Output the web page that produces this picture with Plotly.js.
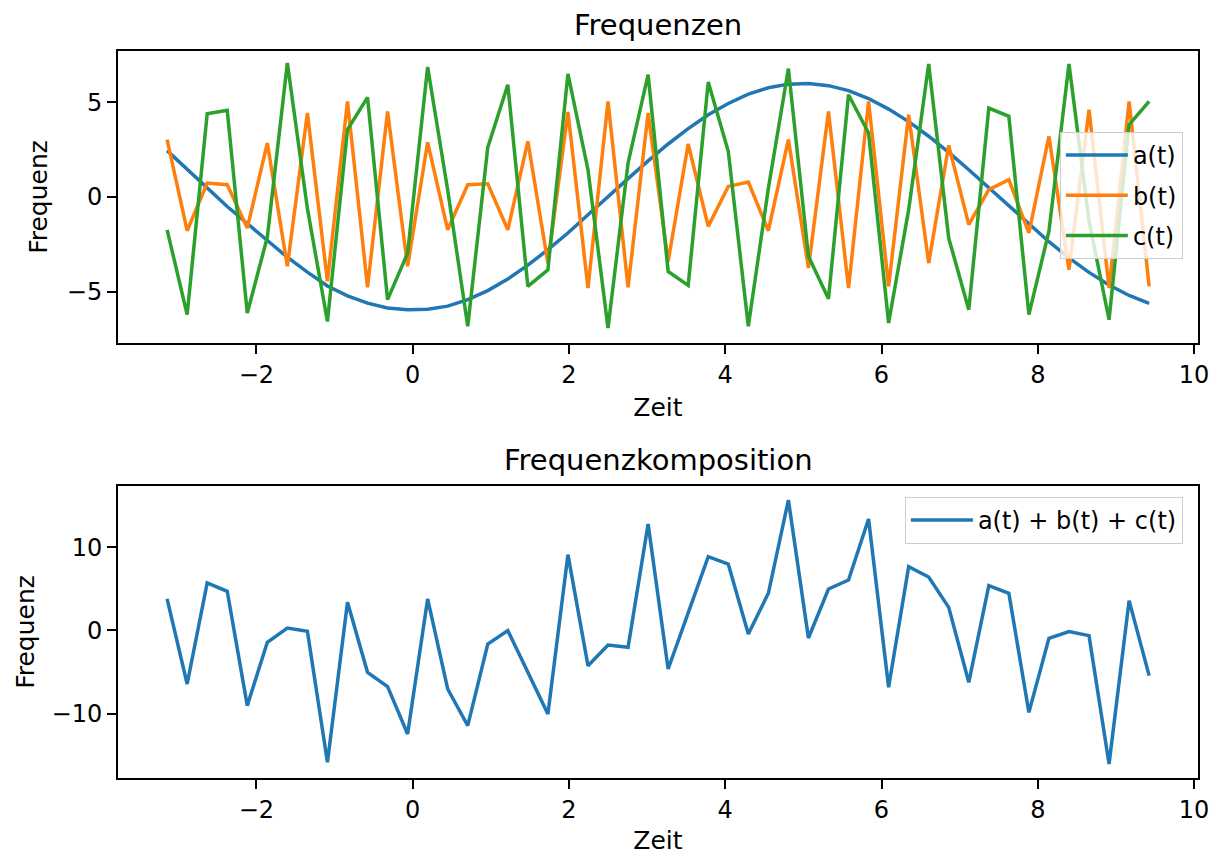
<!DOCTYPE html>
<html>
<head>
<meta charset="utf-8">
<script src="https://cdn.plot.ly/plotly-3.0.1.min.js"></script>
<style>
  html, body { margin: 0; padding: 0; background: #ffffff; }
  #chart { width: 1215px; height: 855px; }
</style>
</head>
<body>
<div id="chart"></div>
<script>
// Zeitpunkte (x)
const zeit = [-3.1416, -2.8851, -2.6287, -2.3722, -2.1157, -1.8593, -1.6028, -1.3464, -1.0899, -0.8334,
  -0.5770, -0.3205, -0.0641, 0.1924, 0.4488, 0.7053, 0.9617, 1.2182, 1.4747, 1.7311,
  1.9876, 2.2440, 2.5005, 2.7570, 3.0134, 3.2699, 3.5263, 3.7828, 4.0392, 4.2957,
  4.5522, 4.8086, 5.0651, 5.3215, 5.5780, 5.8345, 6.0909, 6.3474, 6.6038, 6.8603,
  7.1168, 7.3732, 7.6297, 7.8861, 8.1426, 8.3990, 8.6555, 8.9120, 9.1684, 9.4248];

// a(t)
const aWerte = [2.45, 1.48, 0.52, -0.50, -1.40, -2.30, -3.18, -3.97, -4.70, -5.22,
  -5.60, -5.86, -5.95, -5.93, -5.76, -5.42, -4.94, -4.33, -3.60, -2.78,
  -1.90, -0.94, 0.04, 0.97, 1.91, 2.80, 3.61, 4.34, 4.94, 5.43,
  5.77, 5.96, 6.00, 5.88, 5.62, 5.20, 4.64, 3.98, 3.21, 2.36,
  1.44, 0.48, -0.49, -1.44, -2.36, -3.21, -3.98, -4.65, -5.20, -5.61];

// b(t)
const bWerte = [3.03, -1.78, 0.74, 0.65, -1.64, 2.85, -3.66, 4.44, -4.45, 5.05,
  -4.77, 4.52, -3.66, 2.89, -1.73, 0.65, 0.70, -1.73, 2.94, -3.49,
  4.49, -4.81, 5.05, -4.77, 4.44, -3.40, 2.80, -1.55, 0.56, 0.79,
  -1.78, 3.03, -3.75, 4.52, -4.81, 5.05, -4.72, 4.35, -3.49, 2.73,
  -1.46, 0.39, 0.92, -1.90, 3.20, -3.84, 4.61, -4.81, 5.05, -4.72];

// c(t)
const cWerte = [-1.73, -6.21, 4.40, 4.58, -6.13, -2.12, 7.08, -0.60, -6.57, 3.56,
  5.26, -5.42, -2.96, 6.87, 0.37, -6.83, 2.62, 5.93, -4.72, -3.84,
  6.50, 1.44, -6.92, 1.80, 6.46, -3.93, -4.67, 6.07, 2.41, -6.83,
  0.46, 6.78, -3.13, -5.37, 5.40, 3.38, -6.65, -0.68, 7.02, -2.17,
  -5.95, 4.70, 4.26, -6.21, -1.80, 7.02, -1.27, -6.48, 3.82, 5.05];

// a(t) + b(t) + c(t)
const summeWerte = [3.77, -6.45, 5.69, 4.69, -9.05, -1.44, 0.28, -0.12, -15.87, 3.37,
  -5.05, -6.77, -12.46, 3.77, -7.05, -11.46, -1.64, -0.04, -5.05, -10.06,
  9.09, -4.25, -1.76, -2.04, 12.78, -4.65, 2.10, 8.85, 7.97, -0.44,
  4.45, 15.66, -0.92, 4.97, 6.05, 13.38, -6.85, 7.65, 6.41, 2.76,
  -6.25, 5.37, 4.45, -9.86, -0.96, -0.16, -0.64, -16.07, 3.57, -5.45];

const xTicks = [-2, 0, 2, 4, 6, 8, 10];
const yTicksOben = [-5, 0, 5];
const yTicksUnten = [-10, 0, 10];

const FONT = 'DejaVu Sans, Arial, sans-serif';
const LW = 3.5;

const traces = [
  { x: zeit, y: aWerte, type: 'scatter', mode: 'lines', name: 'a(t)',
    line: { color: '#1f77b4', width: LW }, xaxis: 'x', yaxis: 'y', legend: 'legend', legendgroup: 'a' },
  { x: zeit, y: bWerte, type: 'scatter', mode: 'lines', name: 'b(t)',
    line: { color: '#ff7f0e', width: LW }, xaxis: 'x', yaxis: 'y', legend: 'legend', legendgroup: 'b' },
  { x: zeit, y: cWerte, type: 'scatter', mode: 'lines', name: 'c(t)',
    line: { color: '#2ca02c', width: LW }, xaxis: 'x', yaxis: 'y', legend: 'legend', legendgroup: 'c' },
  { x: zeit, y: summeWerte, type: 'scatter', mode: 'lines', name: 'a(t) + b(t) + c(t)',
    line: { color: '#1f77b4', width: LW }, xaxis: 'x2', yaxis: 'y2', legend: 'legend2' }
];

function axis(extra) {
  return Object.assign({
    ticks: 'outside', ticklen: 9, tickwidth: 2, tickcolor: '#000',
    showline: true, linecolor: '#000', linewidth: 2, mirror: true,
    showgrid: false, zeroline: false,
    tickfont: { family: FONT, size: 24, color: '#000' }
  }, extra);
}

const legendStyle = {
  xanchor: 'right', yanchor: 'top',
  bgcolor: 'rgba(255,255,255,0.8)', bordercolor: '#cccccc', borderwidth: 1,
  font: { family: FONT, size: 24, color: '#000' },
  itemwidth: 62, tracegroupgap: 6, traceorder: 'grouped'
};

const layout = {
  width: 1215, height: 855,
  margin: { l: 118, r: 17, t: 51, b: 77, pad: 0 },
  paper_bgcolor: '#ffffff', plot_bgcolor: '#ffffff',
  font: { family: FONT, size: 24, color: '#000' },
  showlegend: true,
  hovermode: false,
  xaxis: axis({ domain: [0, 1], anchor: 'y', range: [-3.77, 10.05], tickvals: xTicks,
    title: { text: 'Zeit', standoff: 11, font: { family: FONT, size: 25, color: '#000' } } }),
  yaxis: axis({ domain: [0.5983, 1], anchor: 'x', range: [-7.71, 7.71], tickvals: yTicksOben,
    title: { text: 'Frequenz', standoff: 12, font: { family: FONT, size: 25, color: '#000' } } }),
  xaxis2: axis({ domain: [0, 1], anchor: 'y2', range: [-3.77, 10.05], tickvals: xTicks,
    title: { text: 'Zeit', standoff: 11, font: { family: FONT, size: 25, color: '#000' } } }),
  yaxis2: axis({ domain: [0, 0.4017], anchor: 'x2', range: [-17.75, 17.35], tickvals: yTicksUnten,
    title: { text: 'Frequenz', standoff: 10, font: { family: FONT, size: 25, color: '#000' } } }),
  legend: Object.assign({ x: 0.986, y: 0.8886 }, legendStyle),
  legend2: Object.assign({ x: 0.986, y: 0.3865 }, legendStyle),
  annotations: [
    { text: 'Frequenzen', xref: 'paper', yref: 'paper', x: 0.5, y: 1, xanchor: 'center', yanchor: 'bottom',
      yshift: 7, showarrow: false, font: { family: FONT, size: 29, color: '#000' } },
    { text: 'Frequenzkomposition', xref: 'paper', yref: 'paper', x: 0.5, y: 0.4017, xanchor: 'center', yanchor: 'bottom',
      yshift: 7, showarrow: false, font: { family: FONT, size: 29, color: '#000' } }
  ]
};

Plotly.newPlot('chart', traces, layout, { displayModeBar: false, staticPlot: true });
</script>
</body>
</html>
